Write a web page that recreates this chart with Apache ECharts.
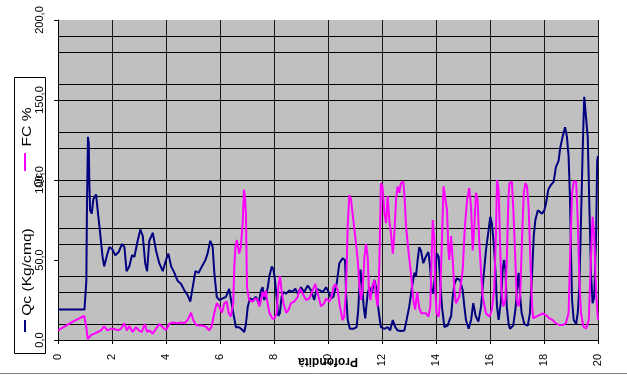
<!DOCTYPE html>
<html>
<head>
<meta charset="utf-8">
<script src="https://cdn.jsdelivr.net/npm/echarts@6/dist/echarts.min.js"></script>
<style>
html,body{margin:0;padding:0;background:#fff;}
#chart{width:627px;height:378px;}
</style>
</head>
<body>
<div id="chart"></div>
<script>
// ---- data ----
const seriesNames = ['Qc (Kg/cmq)', 'FC %'];
const xTitle = 'Profondità';
const yTitle = 'Qc';

const qcDepth = [0,0.98,1.05,1.07,1.11,1.14,1.16,1.19,1.25,1.31,1.41,1.47,1.56,1.65,1.71,1.80,1.90,2.0,2.12,2.25,2.37,2.46,2.54,2.64,2.74,2.83,2.95,3.05,3.14,3.23,3.30,3.38,3.51,3.63,3.75,3.88,4.0,4.09,4.19,4.31,4.43,4.56,4.68,4.80,4.90,4.99,5.09,5.21,5.33,5.46,5.54,5.64,5.73,5.79,5.88,5.97,6.1,6.22,6.34,6.40,6.49,6.59,6.7,6.78,6.9,6.96,7.03,7.11,7.22,7.33,7.43,7.52,7.58,7.64,7.70,7.77,7.83,7.92,7.98,8.04,8.10,8.16,8.22,8.28,8.35,8.45,8.57,8.67,8.79,8.88,9.0,9.12,9.25,9.37,9.49,9.58,9.70,9.81,9.93,10.05,10.11,10.2,10.25,10.32,10.42,10.54,10.63,10.67,10.73,10.81,10.94,11.06,11.12,11.2,11.26,11.32,11.38,11.42,11.47,11.53,11.62,11.72,11.78,11.84,11.9,11.96,12.09,12.21,12.30,12.4,12.49,12.58,12.7,12.83,12.91,13.01,13.11,13.2,13.26,13.32,13.38,13.44,13.53,13.62,13.72,13.78,13.84,13.90,13.97,14.03,14.1,14.15,14.22,14.31,14.43,14.50,14.56,14.62,14.68,14.77,14.89,14.99,15.05,15.11,15.21,15.30,15.38,15.47,15.57,15.67,15.75,15.85,15.95,16.01,16.07,16.14,16.2,16.26,16.32,16.41,16.47,16.52,16.57,16.62,16.69,16.74,16.86,16.94,17.0,17.06,17.11,17.17,17.27,17.4,17.48,17.56,17.62,17.68,17.77,17.83,17.93,18.01,18.07,18.16,18.26,18.36,18.44,18.54,18.6,18.69,18.78,18.85,18.91,18.96,19.0,19.04,19.1,19.19,19.25,19.31,19.37,19.43,19.49,19.56,19.62,19.68,19.74,19.8,19.86,19.93,19.97,20.0];
const qcValues = [19,19,37,79,127,123,98,81,79,88,91,81,67,52,46,52,58,57,53,55,60,58,43,46,53,52,62,69,65,48,43,62,67,56,48,43,50,54,46,42,37,35,31,28,24,33,43,42,46,50,54,62,58,42,27,25,26,27,32,31,17,8,8,7,5,10,21,26,25,27,23,31,33,25,28,33,40,46,44,37,37,15,17,27,30,29,31,30,32,29,33,30,34,31,25,32,31,30,33,29,26,27,27,35,48,51,50,29,12.5,7,7,8,19,44,36,21,13.5,21,29,33,29,37.5,33,23,15,8,7,8,6,12.5,8,6,5.6,6,12.5,21,33,42,40,50,58,56,48,52,55,46,31,29,42,54,52,37.5,21,8,9,12.5,15,27,35,38.5,37.5,31,21,12.5,7,12.5,23,15,11.5,21,37.5,56,69,77,73,60,44,21,12.5,25,44,50,44,21,10,7,9,19,31,42,29,17,10,9,17,42,65,75,81,82,79,81,85,94,97,99,108,112,120,127,133,127,115,90,54,25,12.5,10,17,33,75,117,152,152,127,84,42,23,27,65,112,115];

const fcDepth = [0,0.3,0.6,0.97,1.05,1.1,1.22,1.35,1.47,1.59,1.71,1.83,1.95,2.08,2.21,2.33,2.46,2.55,2.64,2.76,2.88,3.0,3.1,3.21,3.30,3.38,3.51,3.63,3.75,3.88,4.0,4.12,4.25,4.43,4.56,4.68,4.8,4.93,5.01,5.11,5.23,5.36,5.48,5.6,5.69,5.79,5.88,5.97,6.07,6.16,6.25,6.32,6.40,6.49,6.53,6.57,6.62,6.67,6.71,6.77,6.84,6.89,6.93,6.96,6.98,7.0,7.08,7.21,7.31,7.39,7.46,7.52,7.58,7.64,7.70,7.74,7.83,7.93,8.02,8.10,8.16,8.22,8.28,8.35,8.45,8.54,8.63,8.75,8.88,8.96,9.06,9.19,9.31,9.43,9.53,9.62,9.74,9.86,9.93,10.05,10.11,10.2,10.27,10.36,10.44,10.54,10.6,10.67,10.73,10.79,10.85,10.91,11.04,11.1,11.16,11.22,11.28,11.35,11.41,11.47,11.51,11.57,11.63,11.72,11.78,11.84,11.9,11.96,12.02,12.09,12.15,12.21,12.27,12.33,12.4,12.46,12.52,12.58,12.64,12.7,12.79,12.84,12.89,12.99,13.07,13.16,13.23,13.3,13.38,13.46,13.53,13.63,13.72,13.79,13.84,13.88,13.94,13.97,14.02,14.1,14.15,14.22,14.28,14.35,14.41,14.46,14.49,14.56,14.62,14.68,14.74,14.80,14.86,14.99,15.07,15.15,15.23,15.30,15.36,15.42,15.48,15.54,15.6,15.67,15.73,15.85,15.98,16.07,16.16,16.22,16.26,16.32,16.37,16.42,16.49,16.57,16.63,16.68,16.72,16.81,16.86,16.93,16.99,17.06,17.12,17.19,17.25,17.31,17.37,17.43,17.49,17.56,17.6,17.7,17.83,17.95,18.07,18.2,18.32,18.44,18.57,18.69,18.81,18.91,18.97,19.04,19.1,19.19,19.25,19.31,19.37,19.46,19.56,19.66,19.7,19.77,19.8,19.86,19.93,20.0];
const fcValues = [6,9,12,15,8,0.5,3,4,5,6,8.5,6,7,7,6,7,10.5,6,8.7,5,8,6,5,10,5,6,4,7,10,8,6,10,11,10.5,11,10.5,12.5,17,12.5,9.5,9,9,8.3,6,8.3,17,23,21,17,23,24,17,14.6,23,46,58,62.5,58,54,58,73,94,88,79,56,33,25,24,26,25,21,25,30,27,31,25,17,13.5,13.5,17,33,40,31,23,17,19,23,24,27,32,29,25,26,31,35,29,21,23,26,24,26,33,35,31,21,12.5,14.6,33,71,90.6,88,79,60,50,35,25,31,52,60,52,33,25,33,37.5,27,21,46,98,96,79,73,90,75,67,54,67,88,96,92,98,99,88,71,54,42,25,19,30,20,16.7,16.7,16.7,14.6,21,52,75,62.5,33,16.7,14.6,25,62.5,96,97,81,56,50,65,50,31,23,23,27,44,71,87.5,95,83,56,71,92,88,62.5,42,27,16.7,14.6,19,33,67,100,94,62.5,33,21,25,54,87.5,98,99,83,54,25,21,29,65,92,98,96,83,54,21,13.5,14.6,15.6,16.7,15.6,13.5,12.5,10.4,9.4,9.4,10.4,16.7,54,92,99,99,75,37.5,16.7,8.3,7.3,12.5,33,65,77,65,29,12.5];

const xTicks = {min: 0, max: 20, step: 2};
const yTicks = {min: 0, max: 200, step: 50};

// ---- build ----
const pair = (xs, ys) => xs.map((x, i) => [x, ys[i]]);
const FONT = '"Liberation Sans", Arial, sans-serif';
const chart = echarts.init(document.getElementById('chart'), null, {renderer: 'canvas'});
const colors = ['#000080', '#FF00FF'];

chart.setOption({
  animation: false,
  backgroundColor: '#ffffff',
  textStyle: {fontFamily: FONT},
  grid: {left: 58, right: 29, top: 20, bottom: 38, show: true, backgroundColor: '#c0c0c0', borderWidth: 0, containLabel: false},
  xAxis: {
    type: 'value', min: xTicks.min, max: xTicks.max, interval: xTicks.step,
    name: xTitle, nameLocation: 'middle', nameGap: 15, nameRotate: 180, nameMoveOverlap: false,
    nameTextStyle: {fontFamily: FONT, fontSize: 12, fontWeight: 'bold', color: '#000'},
    axisLine: {show: true, onZero: false, lineStyle: {color: '#000', width: 1}},
    axisTick: {show: true, length: 4, lineStyle: {color: '#000'}},
    axisLabel: {rotate: 90, margin: 14, fontSize: 11, color: '#000', fontFamily: FONT},
    splitLine: {show: true, lineStyle: {color: '#1a1a1a', width: 1}}
  },
  yAxis: [{
    type: 'value', min: yTicks.min, max: yTicks.max, interval: yTicks.step, position: 'left',
    name: yTitle, nameLocation: 'middle', nameGap: 14, nameRotate: 90, nameMoveOverlap: false,
    nameTextStyle: {fontFamily: FONT, fontSize: 11, color: '#000'},
    axisLine: {show: true, lineStyle: {color: '#000', width: 1}},
    axisTick: {show: true, length: 4, lineStyle: {color: '#000'}},
    axisLabel: {rotate: 90, margin: 13, fontSize: 11, color: '#000', fontFamily: FONT,
      formatter: v => v.toFixed(1).replace('.', ',')},
    splitLine: {show: false}
  }, {
    type: 'value', min: 0, max: 200, interval: 10, position: 'left',
    axisLine: {show: false}, axisTick: {show: false}, axisLabel: {show: false},
    splitLine: {show: true, lineStyle: {color: ['#000000', '#000000', 'rgba(0,0,0,0)'], width: 1}}
  }],
  series: [
    {name: seriesNames[0], type: 'line', yAxisIndex: 0, data: pair(qcDepth, qcValues),
     showSymbol: false, symbol: 'none', lineStyle: {color: colors[0], width: 2}, itemStyle: {color: colors[0]}},
    {name: seriesNames[1], type: 'line', yAxisIndex: 0, data: pair(fcDepth, fcValues),
     showSymbol: false, symbol: 'none', lineStyle: {color: colors[1], width: 2}, itemStyle: {color: colors[1]}}
  ],
  graphic: [
    {type: 'rect', shape: {x: 14.5, y: 77.5, width: 31, height: 276}, style: {fill: '#fff', stroke: '#000', lineWidth: 1}},
    {type: 'line', shape: {x1: 25, y1: 320, x2: 25, y2: 332}, style: {stroke: colors[0], lineWidth: 2}},
    {type: 'text', x: 28, y: 272, rotation: Math.PI / 2, scaleX: 1.3,
     style: {text: seriesNames[0], font: '12px ' + FONT, fill: '#000', align: 'center', verticalAlign: 'middle'}},
    {type: 'line', shape: {x1: 25, y1: 153, x2: 25, y2: 171}, style: {stroke: colors[1], lineWidth: 2}},
    {type: 'text', x: 28, y: 127, rotation: Math.PI / 2, scaleX: 1.3,
     style: {text: seriesNames[1], font: '12px ' + FONT, fill: '#000', align: 'center', verticalAlign: 'middle'}},
    {type: 'line', shape: {x1: 0, y1: 373.5, x2: 627, y2: 373.5}, style: {stroke: '#808080', lineWidth: 1}}
  ]
});
</script>
</body>
</html>
